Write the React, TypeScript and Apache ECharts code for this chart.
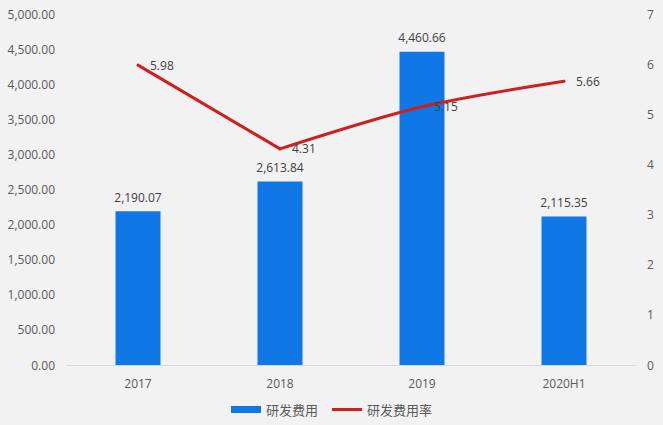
import React, { useEffect, useRef } from "react";
import * as echarts from "echarts";

const categories = ["2017", "2018", "2019", "2020H1"];
const rdExpense = [2190.07, 2613.84, 4460.66, 2115.35];
const rdRate = [5.98, 4.31, 5.15, 5.66];
const seriesNames = ["研发费用", "研发费用率"];

const fmt2 = (v: number) =>
  Number(v).toLocaleString("en-US", { minimumFractionDigits: 2, maximumFractionDigits: 2 });

const FONT = "'Open Sans', 'Noto Sans CJK SC', sans-serif";
const RED = "#d01f1f";

// straight segment 2017→2018, smoothed segment 2018→2020H1 (as in the source)
const straightPart = rdRate.map((v, i) => (i <= 1 ? v : null));
const smoothPart = rdRate.map((v, i) =>
  i >= 1 ? (i === 1 ? { value: v, label: { show: false } } : v) : null
);

export default function App() {
  const ref = useRef<HTMLDivElement>(null);
  useEffect(() => {
    if (!ref.current) return;
    const chart = echarts.init(ref.current, undefined, { renderer: "svg" });
    const lineLabel = {
      show: true,
      position: "right",
      distance: 12,
      color: "#404040",
      fontSize: 12,
      fontFamily: FONT,
    };
    chart.setOption({
      animation: false,
      backgroundColor: "#f2f2f2",
      textStyle: { fontFamily: FONT },
      grid: { left: 67, right: 28, top: 14, bottom: 60 },
      legend: {
        bottom: 4,
        left: "center",
        itemWidth: 30,
        itemHeight: 7,
        itemGap: 14,
        textStyle: { color: "#595959", fontSize: 13, fontFamily: FONT },
        data: [
          { name: seriesNames[0], icon: "rect" },
          { name: seriesNames[1], icon: "path://M0,0 H30 V3 H0 Z" },
        ],
      },
      xAxis: {
        type: "category",
        data: categories,
        axisLine: { lineStyle: { color: "#d9d9d9" } },
        axisTick: { show: false },
        axisLabel: { color: "#595959", fontSize: 12, margin: 12, fontFamily: FONT },
      },
      yAxis: [
        {
          type: "value",
          min: 0,
          max: 5000,
          interval: 500,
          splitLine: { show: false },
          axisLine: { show: false },
          axisTick: { show: false },
          axisLabel: {
            color: "#595959",
            fontSize: 12,
            margin: 12,
            fontFamily: FONT,
            formatter: (v: number) => fmt2(v),
          },
        },
        {
          type: "value",
          min: 0,
          max: 7,
          interval: 1,
          splitLine: { show: false },
          axisLine: { show: false },
          axisTick: { show: false },
          axisLabel: { color: "#595959", fontSize: 12, margin: 12, fontFamily: FONT },
        },
      ],
      series: [
        {
          name: seriesNames[0],
          type: "bar",
          data: rdExpense,
          barWidth: 45,
          itemStyle: { color: "#0f77e6" },
          label: {
            show: true,
            position: "top",
            distance: 8,
            color: "#404040",
            fontSize: 12,
            fontFamily: FONT,
            formatter: (p: any) => fmt2(p.value),
          },
        },
        {
          name: seriesNames[1],
          type: "line",
          yAxisIndex: 1,
          data: straightPart,
          smooth: false,
          symbol: "circle",
          symbolSize: 0.01,
          showSymbol: true,
          lineStyle: { color: RED, width: 3, cap: "round", join: "round" },
          itemStyle: { color: RED },
          label: lineLabel,
        },
        {
          name: seriesNames[1],
          type: "line",
          yAxisIndex: 1,
          data: smoothPart,
          smooth: 0.3,
          symbol: "circle",
          symbolSize: 0.01,
          showSymbol: true,
          lineStyle: { color: RED, width: 3, cap: "round", join: "round" },
          itemStyle: { color: RED },
          label: lineLabel,
        },
      ],
    });
    return () => chart.dispose();
  }, []);
  return (
    <div
      ref={ref}
      style={{ position: "fixed", left: 0, top: 0, width: 663, height: 425, background: "#f2f2f2" }}
    />
  );
}
